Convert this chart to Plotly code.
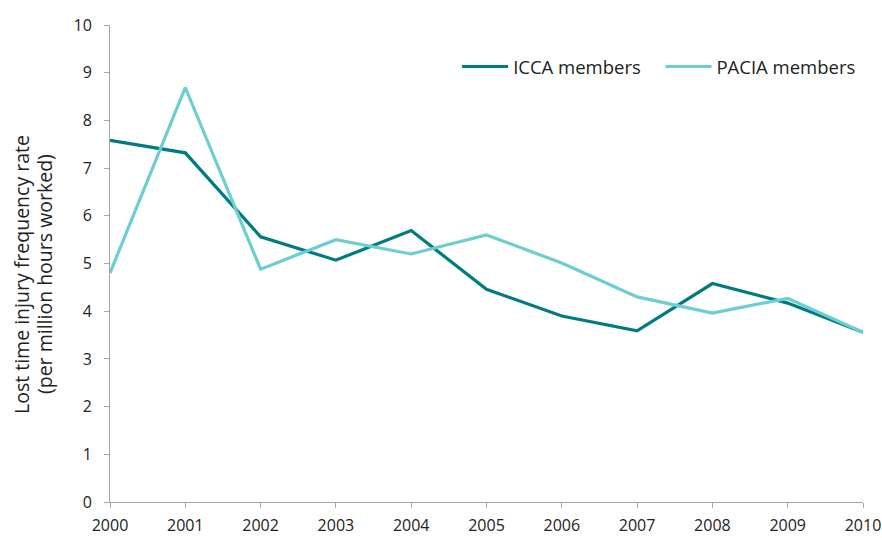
import plotly.graph_objects as go

years = [2000, 2001, 2002, 2003, 2004, 2005, 2006, 2007, 2008, 2009, 2010]
icca = [7.58, 7.32, 5.56, 5.07, 5.69, 4.46, 3.9, 3.59, 4.58, 4.17, 3.56]
pacia = [4.8, 8.69, 4.88, 5.5, 5.2, 5.6, 5.01, 4.3, 3.96, 4.27, 3.56]

fig = go.Figure()
fig.add_trace(go.Scatter(x=years, y=icca, mode="lines", name="ICCA members",
                         line=dict(color="#007b82", width=3.2), legend="legend"))
fig.add_trace(go.Scatter(x=years, y=pacia, mode="lines", name="PACIA members",
                         line=dict(color="#6ccdd3", width=3.2), legend="legend2"))

font = dict(family="Open Sans, Liberation Sans, sans-serif", size=16, color="#222222")
legfont = dict(family="Open Sans, Liberation Sans, sans-serif", size=18.5, color="#222222")

fig.update_layout(
    width=882, height=538,
    margin=dict(l=110, r=19, t=25, b=36, autoexpand=False),
    paper_bgcolor="white", plot_bgcolor="white",
    font=font,
    showlegend=True,
    legend=dict(orientation="h", x=0.461, xanchor="left", y=0.912, yanchor="middle",
                font=legfont, itemwidth=46, bgcolor="rgba(0,0,0,0)"),
    legend2=dict(orientation="h", x=0.731, xanchor="left", y=0.912, yanchor="middle",
                 font=legfont, itemwidth=46, bgcolor="rgba(0,0,0,0)"),
    xaxis=dict(range=[2000, 2010], tickmode="array", tickvals=years,
               ticktext=[str(y) for y in years], automargin=False,
               showgrid=False, zeroline=False, showline=True, linecolor="#a6a6a6", linewidth=1,
               ticks="outside", ticklen=5, tickcolor="#a6a6a6", tickfont=font,
               ticklabelstandoff=4),
    yaxis=dict(range=[0, 10], tickmode="linear", tick0=0, dtick=1, automargin=False,
               showgrid=False, zeroline=False, showline=True, linecolor="#a6a6a6", linewidth=1,
               ticks="outside", ticklen=5, tickcolor="#a6a6a6", tickfont=font,
               ticklabelstandoff=9),
    annotations=[
        dict(text="Lost time injury frequency rate",
             xref="paper", yref="paper", x=-0.1169, y=0.478, xanchor="center",
             yanchor="middle", textangle=-90, showarrow=False,
             font=dict(size=19.5, color="#222222")),
        dict(text="(per million hours worked)",
             xref="paper", yref="paper", x=-0.0863, y=0.478, xanchor="center",
             yanchor="middle", textangle=-90, showarrow=False,
             font=dict(size=19.5, color="#222222")),
    ],
)

fig.write_html("out.html", config={"displayModeBar": False},
               post_script="document.body.style.margin='0';")
